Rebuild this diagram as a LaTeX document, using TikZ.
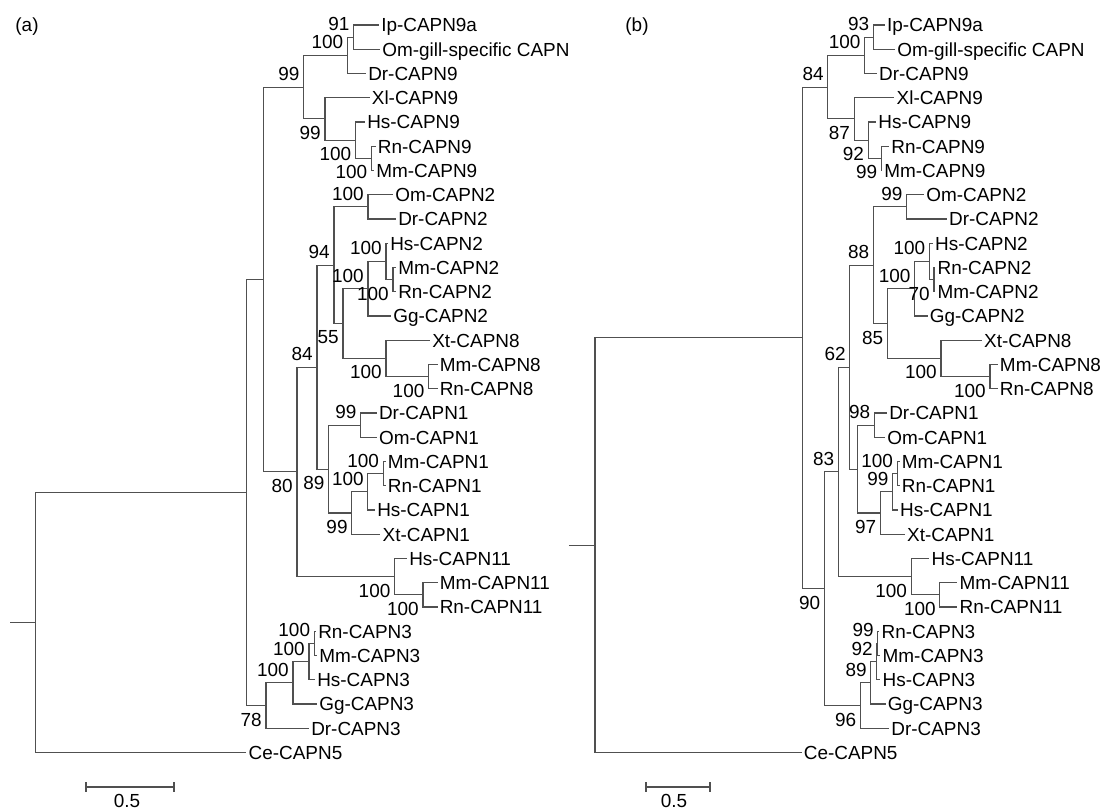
\documentclass[tikz,border=0pt]{standalone}
\usepackage{fontspec}
\setsansfont{Liberation Sans}
\usetikzlibrary{positioning}
\definecolor{branchclr}{RGB}{80,80,80}
\tikzset{
  branch/.style={draw=branchclr,line width=0.8pt},
  leaf/.style={anchor=base west,inner sep=0pt,xshift=1.5pt,yshift=-5.1pt},
  bsup/.style={anchor=south east,inner sep=0pt,xshift=-3pt,yshift=4.5pt},
  bsdn/.style={anchor=north east,inner sep=0pt,xshift=-3pt,yshift=-5.25pt},
  scalebar/.style={draw=branchclr,line width=1.2pt},
}
\begin{document}
\begin{tikzpicture}[x=0.75pt,y=-0.75pt,font=\sffamily\fontsize{14.2pt}{16pt}\selectfont]
\useasboundingbox (0,0) rectangle (1109,812);
\fill[white] (0,0) rectangle (1109,812);

\node (pa) at (27,27) {(a)};
\node (pb) at (637,27) {(b)};

% rows: one unit per taxon
\begin{scope}[y=-18.1875pt,yshift=-18.75pt]

% ---- tree (a) ----
\foreach \nm/\xx/\row in {R/35.7/24.64, A/246.4/19.279, B/263.6/10.496, C3/266/28.0625,
    9/303.6/2.5625, D/297/18.4297, 9a/347.5/1.25, 91/353.6/0.5, 9b/325/3.875,
    9c/355.4/4.75, 9d/371.4/5.5, E/317/14.109, 11/394.6/22.75, F/334/9.906,
    L/328.6/18.3125, 2a/368/7.5, G/343/12.3125, H/368/10.875, 8/386/13.75,
    I/386/9.75, J/393/10.5, K/428.6/14.5, M/360.7/16.5, N/351.8/20.125,
    O/367.9/19.25, P/383.2/18.5, Q/423/23.5, S/293/27.125, T/309/26.25, U/314.3/25.5}
  \coordinate (a-\nm) at (\xx,\row);
\coordinate (a-stub) at (10,24.64);

\foreach \nm/\xx/\row/\txt in {Ip/379/0/Ip-CAPN9a, Omg/380/1/Om-gill-specific CAPN,
    Dr9/366/2/Dr-CAPN9, Xl9/369.6/3/Xl-CAPN9, Hs9/365/4/Hs-CAPN9, Rn9/375.7/5/Rn-CAPN9,
    Mm9/374/6/Mm-CAPN9, Om2/393/7/Om-CAPN2, Dr2/396/8/Dr-CAPN2, Hs2/388/9/Hs-CAPN2,
    Mm2/396/10/Mm-CAPN2, Rn2/396/11/Rn-CAPN2, Gg2/391/12/Gg-CAPN2, Xt8/430/13/Xt-CAPN8,
    Mm8/437.5/14/Mm-CAPN8, Rn8/437.5/15/Rn-CAPN8, Dr1/376.8/16/Dr-CAPN1, Om1/376.8/17/Om-CAPN1,
    Mm1/385.7/18/Mm-CAPN1, Rn1/385.7/19/Rn-CAPN1, Hs1/375/20/Hs-CAPN1, Xt1/380.4/21/Xt-CAPN1,
    Hs11/407/22/Hs-CAPN11, Mm11/437.5/23/Mm-CAPN11, Rn11/437.5/24/Rn-CAPN11,
    Rn3/316/25/Rn-CAPN3, Mm3/317/26/Mm-CAPN3, Hs3/315/27/Hs-CAPN3, Gg3/317/28/Gg-CAPN3,
    Dr3/309/29/Dr-CAPN3, Ce5/246.4/30/Ce-CAPN5} {
  \coordinate (a-\nm) at (\xx,\row);
  \node[leaf] (a-\nm-txt) at (a-\nm) {\txt};
}

\draw[branch] (a-stub) -- (a-R);
\foreach \p/\c in {R/A, R/Ce5, A/B, A/C3, B/9, B/D, 9/9a, 9/9b, 9a/91, 9a/Dr9, 91/Ip, 91/Omg,
    9b/Xl9, 9b/9c, 9c/Hs9, 9c/9d, 9d/Rn9, 9d/Mm9, D/E, D/11, E/F, E/L, F/2a, F/G,
    2a/Om2, 2a/Dr2, G/H, G/8, H/I, H/Gg2, I/Hs2, I/J, J/Mm2, J/Rn2, 8/Xt8, 8/K,
    K/Mm8, K/Rn8, L/M, L/N, M/Dr1, M/Om1, N/O, N/Xt1, O/P, O/Hs1, P/Mm1, P/Rn1,
    11/Hs11, 11/Q, Q/Mm11, Q/Rn11, C3/S, C3/Dr3, S/T, S/Gg3, T/U, T/Hs3, U/Rn3, U/Mm3}
  \draw[branch] (a-\p) |- (a-\c);

% bootstrap values
\foreach \nm/\val in {9/99, 9a/100, 91/91, E/84, F/94, 2a/100, H/100, I/100, M/99,
    O/100, P/100, S/100, T/100, U/100}
  \node[bsup] (a-\nm-bs) at (a-\nm) {\val};
\foreach \nm/\val in {9b/99, 9c/100, 9d/100, D/80, 11/100, L/89, G/55, J/100, 8/100,
    K/100, N/99, Q/100, C3/78}
  \node[bsdn] (a-\nm-bs) at (a-\nm) {\val};

% ---- tree (b) ----
\foreach \nm/\xx/\row in {R/595/21.452, A/802.3/12.904, 9/827.9/2.5625, V/824.4/23.246,
    9a/864.6/1.25, 91/873.4/0.5, 9b/854.1/3.875, 9c/868.1/4.75, 9d/881.4/5.5,
    W/838.4/18.43, C3/860.4/28.0625, X/849.9/14.109, 11/911.2/22.75, F/873.4/9.906,
    L/857.6/18.3125, 2a/906.6/7.5, G/887.4/12.3125, H/914.7/10.875, 8/941/13.75,
    I/929.4/9.75, J/934/10.5, K/990/14.5, M/874.4/16.5, N/880.4/20.125,
    O/892.6/19.25, P/897.2/18.5, Q/939.9/23.5, S/870.9/27.125, T/876.9/26.25, U/877.9/25.5}
  \coordinate (b-\nm) at (\xx,\row);
\coordinate (b-stub) at (568.8,21.452);

\foreach \nm/\xx/\row/\txt in {Ip/884.9/0/Ip-CAPN9a, Omg/895.1/1/Om-gill-specific CAPN,
    Dr9/876.9/2/Dr-CAPN9, Xl9/894.4/3/Xl-CAPN9, Hs9/876.2/4/Hs-CAPN9, Rn9/889.1/5/Rn-CAPN9,
    Mm9/882.1/6/Mm-CAPN9, Om2/924.1/7/Om-CAPN2, Dr2/946.9/8/Dr-CAPN2, Hs2/932.9/9/Hs-CAPN2,
    Rn2/935.4/10/Rn-CAPN2, Mm2/935.4/11/Mm-CAPN2, Gg2/927.6/12/Gg-CAPN2, Xt8/981.9/13/Xt-CAPN8,
    Mm8/997.7/14/Mm-CAPN8, Rn8/997.7/15/Rn-CAPN8, Dr1/887/16/Dr-CAPN1, Om1/885/17/Om-CAPN1,
    Mm1/899.6/18/Mm-CAPN1, Rn1/899.6/19/Rn-CAPN1, Hs1/897.9/20/Hs-CAPN1, Xt1/904.9/21/Xt-CAPN1,
    Hs11/929.4/22/Hs-CAPN11, Mm11/957.4/23/Mm-CAPN11, Rn11/957.4/24/Rn-CAPN11,
    Rn3/879.3/25/Rn-CAPN3, Mm3/880.4/26/Mm-CAPN3, Hs3/880.4/27/Hs-CAPN3, Gg3/885.6/28/Gg-CAPN3,
    Dr3/889.1/29/Dr-CAPN3, Ce5/801.6/30/Ce-CAPN5} {
  \coordinate (b-\nm) at (\xx,\row);
  \node[leaf] (b-\nm-txt) at (b-\nm) {\txt};
}

\draw[branch] (b-stub) -- (b-R);
\foreach \p/\c in {R/A, R/Ce5, A/9, A/V, 9/9a, 9/9b, 9a/91, 9a/Dr9, 91/Ip, 91/Omg,
    9b/Xl9, 9b/9c, 9c/Hs9, 9c/9d, 9d/Rn9, 9d/Mm9, V/W, V/C3, W/X, W/11, X/F, X/L,
    F/2a, F/G, 2a/Om2, 2a/Dr2, G/H, G/8, H/I, H/Gg2, I/Hs2, I/J, J/Rn2, J/Mm2,
    8/Xt8, 8/K, K/Mm8, K/Rn8, L/M, L/N, M/Dr1, M/Om1, N/O, N/Xt1, O/P, O/Hs1,
    P/Mm1, P/Rn1, 11/Hs11, 11/Q, Q/Mm11, Q/Rn11, C3/S, C3/Dr3, S/T, S/Gg3,
    T/U, T/Hs3, U/Rn3, U/Mm3}
  \draw[branch] (b-\p) |- (b-\c);

% bootstrap values
\foreach \nm/\val in {9/84, 9a/100, 91/93, W/83, X/62, F/88, 2a/99, H/100, I/100,
    M/98, O/99, P/100, S/89, T/92, U/99}
  \node[bsup] (b-\nm-bs) at (b-\nm) {\val};
\foreach \nm/\val in {V/90, 9b/87, 9c/92, 9d/99, 11/100, Q/100, G/85, J/70, 8/100,
    K/100, N/97, C3/96}
  \node[bsdn] (b-\nm-bs) at (b-\nm) {\val};
\end{scope}

% scale bars
\coordinate (sa0) at (86,787);
\coordinate (sa1) at (174,787);
\draw[scalebar] (sa0) -- (sa1);
\draw[scalebar] ([yshift=3.4pt]sa0) -- ([yshift=-3.4pt]sa0);
\draw[scalebar] ([yshift=3.4pt]sa1) -- ([yshift=-3.4pt]sa1);
\node[anchor=north,inner sep=0pt] (sa-lbl) at (127,794) {0.5};

\coordinate (sb0) at (646,787);
\coordinate (sb1) at (710,787);
\draw[scalebar] (sb0) -- (sb1);
\draw[scalebar] ([yshift=3.4pt]sb0) -- ([yshift=-3.4pt]sb0);
\draw[scalebar] ([yshift=3.4pt]sb1) -- ([yshift=-3.4pt]sb1);
\node[anchor=north,inner sep=0pt] (sb-lbl) at (674,794) {0.5};
\end{tikzpicture}
\end{document}
